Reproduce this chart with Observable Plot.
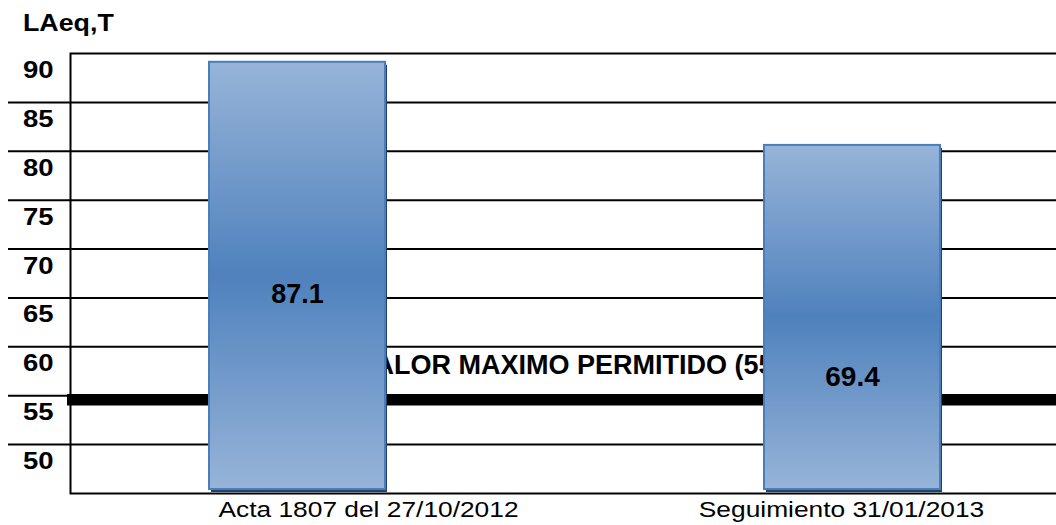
<!DOCTYPE html>
<html>
<head>
<meta charset="utf-8">
<script src="https://cdn.jsdelivr.net/npm/d3@7"></script>
<script src="https://cdn.jsdelivr.net/npm/@observablehq/plot@0.6"></script>
<style>
  html, body { margin: 0; padding: 0; background: #fff; overflow: hidden; }
  #wrap { position: relative; width: 1056px; height: 525px; overflow: hidden; background: #fff; }
  #title { position: absolute; left: 23px; top: 12px; font: 700 23.3px "Liberation Sans", Arial, sans-serif;
           line-height: 1; color: #000; z-index: 2; transform: scaleX(1.15); transform-origin: left top; }
  #chart svg { display: block; max-width: none !important; }
</style>
</head>
<body>
<div id="wrap">
  <div id="title"></div>
  <div id="chart"></div>
</div>
<script>
// ---- data ----
const yTitle = "LAeq,T";
const categories = ["Acta 1807 del 27/10/2012", "Seguimiento 31/01/2013"];
const measured = [87.1, 69.4];          // value labels printed on the bars
const barTops = [89.1, 80.6];           // bar tops as drawn, read against the LAeq axis
const yTicks = [50, 55, 60, 65, 70, 75, 80, 85, 90];
const gridTicks = [50, 55, 60, 65, 70, 75, 80, 85];
const yMin = 45;
const yMax = 90;
const limitValue = 55;
const limitText = "VALOR MAXIMO PERMITIDO (55 dB)";

document.getElementById("title").textContent = yTitle;

const rows = categories.map((c, i) => ({category: c, value: measured[i], top: barTops[i]}));
const font = "'Liberation Sans', Arial, Helvetica, sans-serif";

const chart = Plot.plot({
  width: 1079,
  height: 525,
  marginLeft: 70,
  marginRight: 0,
  marginTop: 53,
  marginBottom: 32,
  style: {fontFamily: font, color: "#000", background: "transparent", overflow: "visible", maxWidth: "none"},
  x: {type: "band", domain: categories, paddingInner: 0.682, paddingOuter: 0.25, axis: null},
  y: {domain: [yMin, yMax], axis: null},
  marks: [
    Plot.gridY(gridTicks, {stroke: "#000", strokeOpacity: 1, strokeWidth: 2}),
    Plot.axisY(gridTicks, {tickSize: 62, tickFormat: () => "", stroke: "#000", strokeWidth: 2, label: null}),
    Plot.frame({stroke: "#000", strokeWidth: 2}),
    Plot.ruleY([limitValue], {stroke: "#000", strokeWidth: 11.5, dy: 4, insetLeft: -3}),
    Plot.text([limitText], {y: [limitValue], text: d => d, frameAnchor: "left", textAnchor: "start",
      dx: 288, dy: -30, fontSize: 27, fontWeight: "bold", fill: "#000"}),
    Plot.text(yTicks, {y: d => d, text: d => String(d), frameAnchor: "left", textAnchor: "end",
      dx: -17, dy: 17, fontSize: 23.3, fontWeight: "bold", fill: "#000", ariaDescription: "ylabels"}),
    // bar shadows
    Plot.barY(rows, {x: "category", y1: yMin, y2: "top", fill: "#22416b", dx: 2, dy: 3, insetBottom: 4}),
    // bars
    Plot.barY(rows, {x: "category", y1: yMin, y2: "top", fill: "url(#barGrad)", stroke: "#4a7ebb",
      strokeWidth: 2, insetBottom: 4}),
    // value labels
    Plot.text([rows[0]], {x: "category", y: d => (yMin + d.top) / 2, text: d => d.value.toFixed(1),
      dy: 16, fontSize: 27, fontWeight: "bold", fill: "#000"}),
    Plot.text([rows[1]], {x: "category", y: d => (yMin + d.top) / 2, text: d => d.value.toFixed(1),
      dy: 58, fontSize: 28, fontWeight: "bold", fill: "#000"}),
    // category labels
    Plot.text([rows[0]], {x: "category", frameAnchor: "bottom", lineAnchor: "top", text: "category",
      dx: 71, dy: 8, fontSize: 22.5, fill: "#000", ariaDescription: "xlabels"}),
    Plot.text([rows[1]], {x: "category", frameAnchor: "bottom", lineAnchor: "top", text: "category",
      dx: -11, dy: 8, fontSize: 22.5, fill: "#000", ariaDescription: "xlabels"})
  ]
});

const defs = document.createElementNS("http://www.w3.org/2000/svg", "defs");
defs.innerHTML =
  '<linearGradient id="barGrad" x1="0" y1="0" x2="0" y2="1">' +
  '<stop offset="0" stop-color="#97b4d8"/>' +
  '<stop offset="0.5" stop-color="#4f81bd"/>' +
  '<stop offset="1" stop-color="#97b4d8"/>' +
  '</linearGradient>';
chart.insertBefore(defs, chart.firstChild);
chart.style.maxWidth = "none";
document.getElementById("chart").appendChild(chart);

// the reference's axis texts are horizontally widened: stretch the glyphs
function stretch(selector, s) {
  chart.querySelectorAll(selector + " text").forEach(t => {
    const w = t.getComputedTextLength();
    if (w > 0) {
      t.setAttribute("textLength", (w * s).toFixed(2));
      t.setAttribute("lengthAdjust", "spacingAndGlyphs");
    }
  });
}
stretch('[aria-description="xlabels"]', 1.17);
stretch('[aria-description="ylabels"]', 1.18);
</script>
</body>
</html>
